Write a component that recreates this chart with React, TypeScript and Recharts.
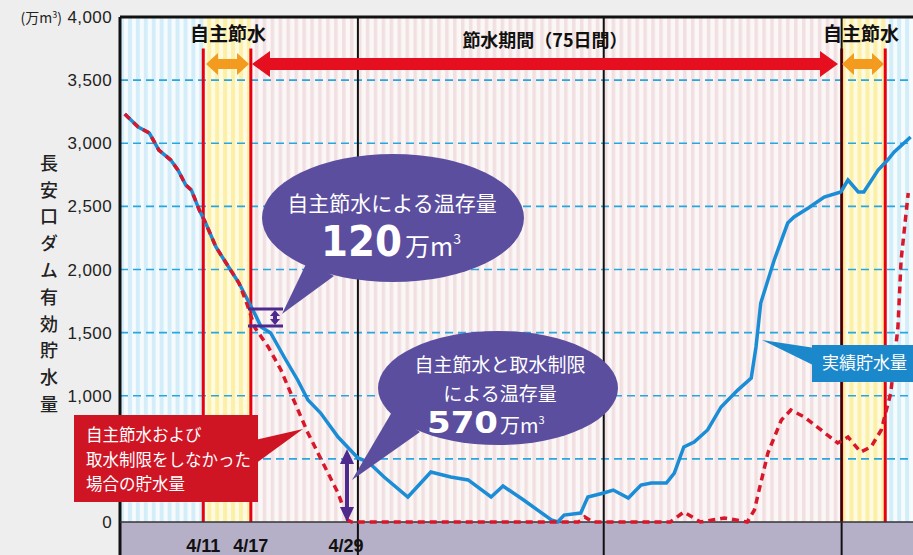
import { ComposedChart, Line, XAxis, YAxis, ReferenceArea, ReferenceLine } from 'recharts';

// days counted from 4/1 (day 0 = left edge of 4/1)
const ACTUAL_DAYS = [
  0.6, 2.3, 3.7, 4.9, 6.4, 7.3, 8.3, 9.0, 10.0, 10.8, 12.1, 13.7, 15.0, 16.3, 17.2, 17.8, 19.0,
  20.7, 22.4, 23.7, 25.3, 27.5, 30.0, 31.3, 33.3, 36.3, 39.2, 41.7, 43.9, 46.8, 48.3, 50.9,
  54.4, 55.2, 56.0, 58.1, 59.0, 61.0, 62.2, 64.1, 65.7, 67.0, 68.9, 69.9, 71.1, 72.4, 74.1,
  75.8, 77.9, 79.6, 80.2, 80.8, 82.5, 84.2, 85.0, 86.8, 88.8, 90.9, 91.8, 93.1, 93.8, 95.6,
  96.8, 97.6, 99.7,
];
const ACTUAL = [
  3231, 3128, 3081, 2946, 2867, 2788, 2669, 2629, 2471, 2368, 2178, 2020, 1893, 1734, 1624, 1544, 1497,
  1307, 1125, 966, 863, 673, 507, 475, 356, 198, 396, 356, 333, 198, 285, 174,
  16, 0, 55, 71, 198, 230, 253, 190, 293, 309, 309, 388, 594, 634, 729,
  911, 1045, 1140, 1386, 1734, 2075, 2368, 2416, 2487, 2574, 2614, 2709, 2614, 2614, 2788,
  2867, 2930, 3049,
];

const NO_SAVING_DAYS = [
  0.6, 2.3, 3.7, 4.9, 6.4, 7.3, 8.3, 9.0, 10.0, 10.8, 12.1, 13.7, 15.0, 16.0, 17.0, 18.7, 20.3,
  21.9, 23.7, 25.4, 27.5, 28.7, 29.2, 57.8, 58.6, 59.6, 69.4, 71.1, 73.2, 76.2, 79.1, 80.0,
  81.7, 83.4, 84.6, 86.3, 88.4, 90.5, 91.8, 93.4, 94.7, 96.0, 97.2, 98.1, 98.5, 99.4,
];
const NO_SAVING = [
  3231, 3128, 3081, 2946, 2867, 2788, 2669, 2629, 2471, 2368, 2178, 2020, 1893, 1730, 1540, 1386, 1204,
  966, 705, 491, 230, 16, 0, 0, 40, 0, 0, 79, 0, 32, 0, 95,
  546, 808, 887, 832, 729, 626, 673, 554, 594, 729, 1022, 1544, 2075, 2606,
];

const Y_TICKS = [0, 500, 1000, 1500, 2000, 2500, 3000, 3500, 4000];
const X_TICKS = [10.5, 16.5, 28.5];
const X_LABELS = ['4/11', '4/17', '4/29'];
const MONTH_ENDS = [30, 61, 91];
const SAVING_LINES = [10.5, 16.5, 91, 96.5];

const actualData = ACTUAL_DAYS.map((d, i) => ({ d, v: ACTUAL[i] }));
const noSavingData = NO_SAVING_DAYS.map((d, i) => ({ d, v: NO_SAVING[i] }));

const JP = '"Noto Sans CJK JP", sans-serif';
const BAND_BOTTOM = -262; // lower edge of the grey date band, in axis units

function DateTick({ x, y, payload }: any) {
  const i = X_TICKS.indexOf(payload.value);
  return (
    <text x={x} y={y + 22} textAnchor="middle" fontSize={18} fontWeight="bold"
      fill="#111" fontFamily="'Liberation Sans Narrow', 'Liberation Sans', Arial, sans-serif">
      {X_LABELS[i]}
    </text>
  );
}

function Arrow({ x1, x2, y, color, body, head, len }: any) {
  const h = body / 2;
  const H = head / 2;
  return (
    <polygon
      fill={color}
      points={`${x1},${y} ${x1 + len},${y - H} ${x1 + len},${y - h} ${x2 - len},${y - h} ${x2 - len},${y - H} ${x2},${y} ${x2 - len},${y + H} ${x2 - len},${y + h} ${x1 + len},${y + h} ${x1 + len},${y + H}`}
    />
  );
}

function Overlay() {
  const purple = '#5b4e9f';
  const deep = '#4e2a8e';
  return (
    <svg width={913} height={555} style={{ position: 'absolute', left: 0, top: 0, pointerEvents: 'none' }}>
      <text x={62} y={23} textAnchor="end" fontSize={14} fill="#222" fontFamily={JP}>
        (万m<tspan fontSize={9} dy={-5}>3</tspan><tspan dy={5}>)</tspan>
      </text>

      <text x={228} y={41} textAnchor="middle" fontSize={19} fontWeight="bold" fill="#111" fontFamily={JP}>自主節水</text>
      <text x={861} y={41} textAnchor="middle" fontSize={19} fontWeight="bold" fill="#111" fontFamily={JP}>自主節水</text>
      <text x={545} y={47} textAnchor="middle" fontSize={18} fontWeight="bold" fill="#111" fontFamily={JP}>節水期間（75日間）</text>

      <Arrow x1={206} x2={249} y={64} color="#f29b1f" body={10} head={22} len={12} />
      <Arrow x1={252} x2={838} y={64} color="#e50f1f" body={12} head={26} len={18} />
      <Arrow x1={842} x2={884} y={64} color="#f29b1f" body={10} head={22} len={12} />

      {/* bubble 1 */}
      <polygon fill={purple} points="307,262 334,276 282,314" />
      <ellipse cx={393} cy={218} rx={131} ry={64} fill={purple} />
      <text x={392} y={211} textAnchor="middle" fontSize={21} fill="#fff" fontFamily={JP}>自主節水による温存量</text>
      <text x={321} y={256} fontSize={42} fontWeight="bold" fill="#fff" fontFamily="DejaVu Sans, sans-serif"
        textLength={81} lengthAdjust="spacingAndGlyphs">120</text>
      <text x={405} y={256} fontSize={25} fill="#fff" fontFamily={JP}>万m<tspan fontSize={14} dy={-12}>3</tspan></text>

      {/* bubble 2 */}
      <polygon fill={purple} points="392,412 420,432 352,480" />
      <ellipse cx={498} cy={388} rx={120} ry={57} fill={purple} />
      <text x={500} y={372} textAnchor="middle" fontSize={19} fill="#fff" fontFamily={JP}>自主節水と取水制限</text>
      <text x={500} y={401} textAnchor="middle" fontSize={19} fill="#fff" fontFamily={JP}>による温存量</text>
      <text x={427} y={433} fontSize={30} fontWeight="bold" fill="#fff" fontFamily="DejaVu Sans, sans-serif"
        textLength={71} lengthAdjust="spacingAndGlyphs">570</text>
      <text x={500} y={433} fontSize={20} fill="#fff" fontFamily={JP}>万m<tspan fontSize={11} dy={-9}>3</tspan></text>

      {/* bracket at 4/17 */}
      <line x1={248} x2={283} y1={309} y2={309} stroke={deep} strokeWidth={3} />
      <line x1={248} x2={283} y1={326} y2={326} stroke={deep} strokeWidth={3} />
      <line x1={275} x2={275} y1={313} y2={322} stroke={deep} strokeWidth={4} />
      <polygon fill={deep} points="275,310 270,316 280,316" />
      <polygon fill={deep} points="275,325 270,319 280,319" />

      {/* arrow at 4/29 */}
      <line x1={347} x2={347} y1={462} y2={510} stroke={deep} strokeWidth={4} />
      <polygon fill={deep} points="347,449 340,464 354,464" />
      <polygon fill={deep} points="347,522 340,507 354,507" />

      {/* red label */}
      <polygon fill="#cf1424" points="255,440 255,464 303,429" />
      <rect x={74} y={415} width={184} height={87} fill="#cf1424" />
      <text fontSize={16.5} fill="#fff" fontFamily={JP}>
        <tspan x={86} y={441}>自主節水および</tspan>
        <tspan x={86} y={466}>取水制限をしなかった</tspan>
        <tspan x={86} y={490}>場合の貯水量</tspan>
      </text>

      {/* blue label */}
      <polygon fill="#1c88cc" points="815,348 815,366 762,340" />
      <rect x={812} y={345} width={110} height={37} fill="#1c88cc" />
      <text x={822} y={369} fontSize={17} fill="#fff" fontFamily={JP}>実績貯水量</text>
    </svg>
  );
}

export default function App() {
  return (
    <div style={{ position: 'fixed', left: 0, top: 0, width: 913, height: 555, background: '#eeeeee', overflow: 'hidden' }}>
      <div style={{ position: 'absolute', left: 120, top: 522, width: 793, height: 33, background: '#b5b0c7' }} />
      <div style={{
        position: 'absolute', left: 36, top: 154, writingMode: 'vertical-rl', fontFamily: JP,
        fontSize: 18, letterSpacing: 8.8, color: '#222', fontWeight: 500,
      }}>
        長安口ダム有効貯水量
      </div>
      <div style={{ position: 'absolute', left: 0, top: 0 }}>
        <ComposedChart width={913} height={555} margin={{ top: 17, right: 0, bottom: 0, left: 0 }}>
          <defs>
            <pattern id="stripeBlue" patternUnits="userSpaceOnUse" x={120} y={0} width={7.93} height={10}>
              <rect width={7.93} height={10} fill="#f6fbfd" />
              <rect width={4} height={10} fill="#d4eef9" />
            </pattern>
            <pattern id="stripeYellow" patternUnits="userSpaceOnUse" x={120} y={0} width={7.93} height={10}>
              <rect width={7.93} height={10} fill="#fffbe2" />
              <rect width={4} height={10} fill="#fcf0a6" />
            </pattern>
            <pattern id="stripePink" patternUnits="userSpaceOnUse" x={120} y={0} width={7.93} height={10}>
              <rect width={7.93} height={10} fill="#fbf7f6" />
              <rect width={3.5} height={10} fill="#f1dfe1" />
            </pattern>
          </defs>
          <XAxis dataKey="d" type="number" domain={[0, 100]} ticks={X_TICKS} allowDataOverflow
            height={33} axisLine={false} tickLine={false} tick={<DateTick />} interval={0} />
          <YAxis type="number" domain={[0, 4000]} ticks={Y_TICKS} width={120} axisLine={false} tickLine={false}
            tickFormatter={(v) => v.toLocaleString('en-US')}
            tick={{ fontSize: 17, fill: '#222', letterSpacing: 0.4, fontFamily: 'Liberation Sans, Arial, sans-serif' }} />

          <ReferenceArea x1={0} x2={10.5} y1={0} y2={4000} fill="url(#stripeBlue)" fillOpacity={1} strokeWidth={0} />
          <ReferenceArea x1={10.5} x2={16.5} y1={0} y2={4000} fill="url(#stripeYellow)" fillOpacity={1} strokeWidth={0} />
          <ReferenceArea x1={16.5} x2={91} y1={0} y2={4000} fill="url(#stripePink)" fillOpacity={1} strokeWidth={0} />
          <ReferenceArea x1={91} x2={96.5} y1={0} y2={4000} fill="url(#stripeYellow)" fillOpacity={1} strokeWidth={0} />
          <ReferenceArea x1={96.5} x2={100} y1={0} y2={4000} fill="url(#stripeBlue)" fillOpacity={1} strokeWidth={0} />

          {Y_TICKS.slice(1, -1).map((t) => (
            <ReferenceLine key={t} y={t} stroke="#27a6df" strokeWidth={1.6} strokeDasharray="8 5" />
          ))}

          {SAVING_LINES.map((d) => (
            <ReferenceLine key={d} segment={[{ x: d, y: 0 }, { x: d, y: 3750 }]} stroke="#e60012" strokeWidth={3} />
          ))}
          {MONTH_ENDS.map((d) => (
            <ReferenceLine key={d} segment={[{ x: d, y: BAND_BOTTOM }, { x: d, y: 4000 }]} ifOverflow="visible"
              stroke="#111" strokeWidth={2} />
          ))}
          <ReferenceLine segment={[{ x: 0, y: BAND_BOTTOM }, { x: 0, y: 4000 }]} ifOverflow="visible" stroke="#111" strokeWidth={3} />
          <ReferenceLine y={4000} stroke="#111" strokeWidth={3} />
          <ReferenceLine y={0} stroke="#333" strokeWidth={1.5} />

          <Line data={actualData} dataKey="v" type="linear" stroke="#1b8dd6" strokeWidth={3.5}
            dot={false} isAnimationActive={false} />
          <Line data={noSavingData} dataKey="v" type="linear" stroke="#d8172b" strokeWidth={3.5}
            strokeDasharray="7 5" dot={false} isAnimationActive={false} />
        </ComposedChart>
      </div>
      <Overlay />
    </div>
  );
}
